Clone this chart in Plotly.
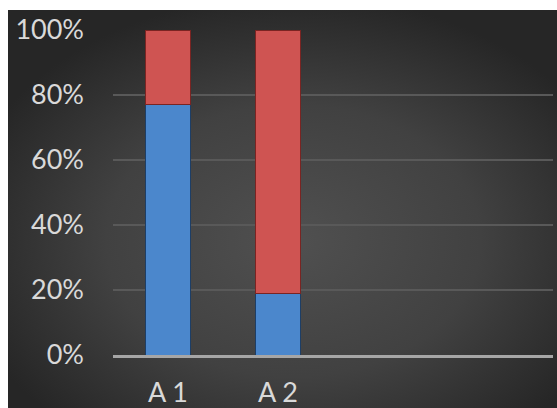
import base64
import plotly.graph_objects as go

categories = ["A 1", "A 2", "A 3", "A 4"]
tick_text = ["A 1", "A 2", "", ""]
blue_share = [0.77, 0.19, None, None]
red_share = [0.23, 0.81, None, None]
y_ticks = [0, 0.2, 0.4, 0.6, 0.8, 1.0]
y_tick_labels = ["0%", "20%", "40%", "60%", "80%", "100%"]

W, H = 557, 408
L, R, T, B = 113, 4, 30, 53
pw, ph = W - L - R, H - T - B

svg = (
    '<svg xmlns="http://www.w3.org/2000/svg" width="549" height="398" '
    'viewBox="0 0 549 398" preserveAspectRatio="none">'
    '<defs><radialGradient id="g" cx="52%" cy="58%" r="62%">'
    '<stop offset="0%" stop-color="#505050"/>'
    '<stop offset="55%" stop-color="#414141"/>'
    '<stop offset="100%" stop-color="#262626"/>'
    '</radialGradient></defs>'
    '<rect width="549" height="398" fill="url(#g)"/></svg>'
)
src = "data:image/svg+xml;base64," + base64.b64encode(svg.encode()).decode()

fig = go.Figure()
fig.add_bar(
    x=categories, y=blue_share, name="S1",
    marker=dict(color="#4b87cc", line=dict(color="#1d3e66", width=1)),
)
fig.add_bar(
    x=categories, y=red_share, name="S2",
    marker=dict(color="#cf5452", line=dict(color="#7a2422", width=1)),
)

font = dict(family="Lato, 'Open Sans', sans-serif", size=27, color="#d9d9d9")

fig.update_layout(
    width=W, height=H,
    margin=dict(l=L, r=R, t=T, b=B, pad=0),
    barmode="stack",
    bargap=0.59,
    showlegend=False,
    paper_bgcolor="white",
    plot_bgcolor="rgba(0,0,0,0)",
    images=[dict(
        source=src, xref="paper", yref="paper",
        x=(8 - L) / pw, y=(H - B - 10) / ph,
        sizex=(W - 8) / pw, sizey=(H - 10) / ph,
        xanchor="left", yanchor="top", sizing="stretch", layer="below",
    )],
    xaxis=dict(
        categoryorder="array", categoryarray=categories,
        tickvals=categories, ticktext=tick_text,
        showline=True, linecolor="#a6a6a6", linewidth=2.5,
        showgrid=False, ticks="", tickfont=font,
        ticklabelstandoff=12, fixedrange=True, automargin=False,
    ),
    yaxis=dict(
        range=[0, 1], tickvals=y_ticks, ticktext=y_tick_labels,
        showgrid=True, gridcolor="#595959", gridwidth=1.5,
        zeroline=False, showline=False, ticks="", tickfont=font,
        ticklabelstandoff=28, fixedrange=True, automargin=False,
    ),
)

fig.write_html("out.html")
